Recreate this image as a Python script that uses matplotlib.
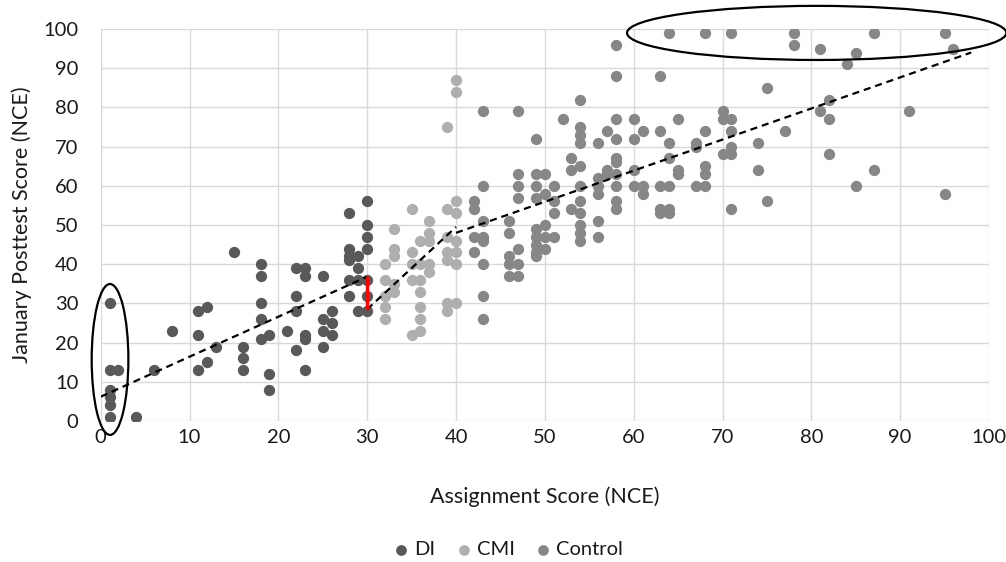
import matplotlib
matplotlib.use("Agg")
import matplotlib.pyplot as plt
from matplotlib.patches import Ellipse
import numpy as np

plt.rcParams['font.family'] = ['Lato', 'DejaVu Sans']

# ---------------- data ----------------
di_x = [1, 1, 1, 1, 1, 1, 2, 4, 6, 8,
        11, 11, 11, 12, 12, 13, 15, 16, 16, 16,
        18, 18, 18, 18, 18, 19, 19, 19, 21,
        22, 22, 22, 22, 23, 23, 23, 23, 23,
        25, 25, 25, 25, 26, 26, 26,
        28, 28, 28, 28, 28, 28, 29, 29, 29, 29,
        30, 30, 30, 30, 30, 30, 30]
di_y = [30, 13, 8, 6, 4, 1, 13, 1, 13, 23,
        28, 22, 13, 29, 15, 19, 43, 19, 16, 13,
        40, 37, 30, 26, 21, 22, 12, 8, 23,
        39, 32, 28, 18, 39, 37, 22, 21, 13,
        37, 26, 23, 19, 28, 25, 22,
        53, 44, 42, 41, 36, 32, 42, 39, 36, 28,
        56, 50, 47, 44, 36, 32, 28]

cmi_x = [32, 32, 32, 32, 32,
         33, 33, 33, 33, 33,
         35, 35, 35, 35, 35,
         36, 36, 36, 36, 36, 36, 36,
         37, 37, 37, 37, 37,
         39, 39, 39, 39, 39, 39, 39,
         40, 40, 40, 40, 40, 40, 40, 40]
cmi_y = [40, 36, 32, 29, 26,
         49, 44, 42, 35, 33,
         54, 43, 40, 36, 22,
         46, 40, 36, 33, 29, 26, 23,
         51, 48, 46, 40, 38,
         75, 54, 47, 43, 41, 30, 28,
         87, 84, 56, 53, 46, 43, 40, 30]

ctrl_x = [42, 42, 42, 42,
          43, 43, 43, 43, 43, 43, 43, 43,
          46, 46, 46, 46, 46,
          47, 47, 47, 47, 47, 47, 47,
          49, 49, 49, 49, 49, 49, 49, 49, 49,
          50, 50, 50, 50, 50,
          51, 51, 51, 51,
          52,
          53, 53, 53,
          54, 54, 54, 54, 54, 54, 54, 54, 54, 54, 54,
          56, 56, 56, 56, 56, 56,
          57, 57, 57,
          58, 58, 58, 58, 58, 58, 58, 58, 58, 58,
          60, 60, 60, 60,
          61, 61, 61,
          63, 63, 63, 63, 63,
          64, 64, 64, 64, 64, 64,
          65, 65, 65,
          67, 67, 67,
          68, 68, 68, 68, 68,
          70, 70, 70,
          71, 71, 71, 71, 71, 71,
          74, 74, 75, 75, 77, 78, 78,
          81, 81, 82, 82, 82, 84, 85, 85, 87, 87, 91, 95, 95, 96]
ctrl_y = [56, 54, 47, 43,
          79, 60, 51, 47, 46, 40, 32, 26,
          51, 48, 42, 40, 37,
          79, 63, 60, 57, 44, 40, 37,
          72, 63, 60, 57, 49, 47, 45, 43, 42,
          63, 58, 50, 47, 44,
          60, 56, 53, 47,
          77,
          67, 64, 54,
          82, 75, 73, 71, 65, 60, 56, 53, 50, 48, 46,
          71, 62, 60, 58, 51, 47,
          74, 64, 63,
          96, 88, 77, 72, 67, 66, 63, 60, 56, 54,
          77, 72, 64, 60,
          74, 60, 58,
          88, 74, 60, 54, 53,
          99, 71, 67, 60, 54, 53,
          77, 64, 63,
          71, 70, 60,
          99, 74, 65, 63, 60,
          79, 77, 68,
          99, 77, 74, 70, 68, 54,
          71, 64, 85, 56, 74, 99, 96,
          95, 79, 82, 77, 68, 91, 94, 60, 99, 64, 79, 99, 58, 95]

# piecewise trend segments
trend_di_x, trend_di_y = [0, 30], [6.2, 36.8]
trend_cmi_x, trend_cmi_y = [30, 40], [28.5, 49.5]
trend_ctrl_x, trend_ctrl_y = [40, 98], [48, 94]
# red gap marker at x = 30
gap_x, gap_y = [30, 30], [28.5, 37]

x_ticks = list(range(0, 101, 10))
y_ticks = list(range(0, 101, 10))

# ---------------- figure ----------------
W, H = 1006, 562
fig = plt.figure(figsize=(W / 100, H / 100), dpi=100)
ax = fig.add_axes([100.7 / W, (H - 421) / H, 888.3 / W, 392 / H])

c_di, c_cmi, c_ctrl = '#595959', '#afafaf', '#878787'
ms = 66
ax.scatter(ctrl_x, ctrl_y, s=ms, color=c_ctrl, linewidths=0, zorder=3, label='Control')
ax.scatter(cmi_x, cmi_y, s=ms, color=c_cmi, linewidths=0, zorder=3, label='CMI')
ax.scatter(di_x, di_y, s=ms, color=c_di, linewidths=0, zorder=3, label='DI')

dash = (0, (3.2, 2.2))
for tx, ty in [(trend_di_x, trend_di_y), (trend_cmi_x, trend_cmi_y), (trend_ctrl_x, trend_ctrl_y)]:
    ax.plot(tx, ty, color='black', lw=1.6, linestyle=dash, zorder=4)

ax.plot(gap_x, gap_y, color='#ff0000', lw=2.4, zorder=5, solid_capstyle='butt')

ax.add_patch(Ellipse((1.05, 15.7), 4.13, 38.5, fill=False, edgecolor='black',
                     lw=1.6, clip_on=False, zorder=6))
ax.add_patch(Ellipse((80.6, 99.0), 42.7, 13.8, fill=False, edgecolor='black',
                     lw=1.6, clip_on=False, zorder=6))

ax.set_xlim(0, 100)
ax.set_ylim(0, 100)
ax.set_xticks(x_ticks)
ax.set_yticks(y_ticks)
ax.grid(True, color='#d9d9d9', lw=1.0, zorder=0)
ax.set_axisbelow(True)
for s in ax.spines.values():
    s.set_visible(False)
ax.tick_params(length=0, labelsize=14.5, colors='#1a1a1a')
ax.tick_params(axis='y', pad=16)
ax.tick_params(axis='x', pad=6)

ax.set_xlabel('Assignment Score (NCE)', fontsize=15.5, color='#1a1a1a')
ax.set_ylabel('January Posttest Score (NCE)', fontsize=15.5, color='#1a1a1a')
ax.xaxis.set_label_coords(0.5, -0.168)
ax.yaxis.set_label_coords(-0.077, 0.5)

handles, labels = ax.get_legend_handles_labels()
order = [2, 1, 0]
fig.legend([handles[i] for i in order], [labels[i] for i in order],
           loc='center', bbox_to_anchor=(0.503, 0.022), ncol=3, frameon=False,
           fontsize=14.5, handletextpad=0.05, columnspacing=0.8, markerscale=0.95,
           handlelength=1.2, labelcolor='#1a1a1a')

fig.savefig('out.png', dpi=100)
